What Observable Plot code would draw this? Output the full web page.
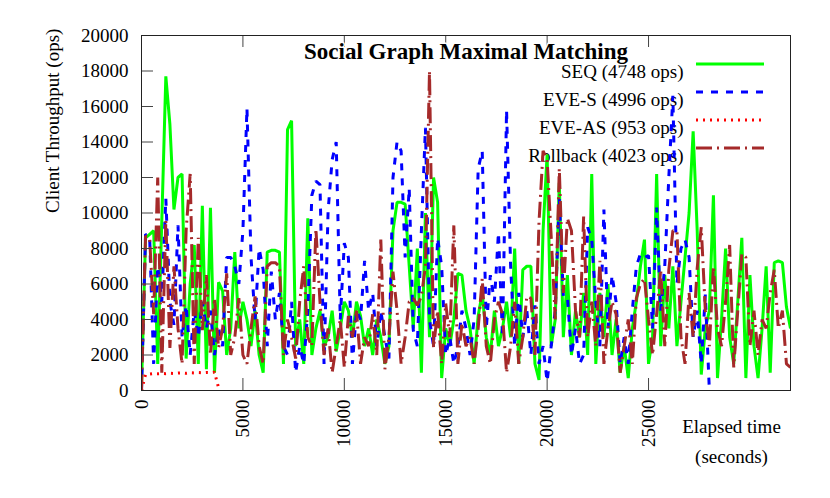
<!DOCTYPE html>
<html><head><meta charset="utf-8">
<script src="https://cdn.jsdelivr.net/npm/d3@7"></script>
<script src="https://cdn.jsdelivr.net/npm/@observablehq/plot@0.6"></script>
<style>
body{margin:0;background:#fff;}
#chart svg{display:block;}
</style></head><body><div id="chart"></div>
<script>
// sampling interval (seconds) of every series
const STEP = 200;

// SEQ throughput, t = 0 .. 32000 s
const seqValues = [
  200, 8600, 8800, 9000, 1500, 9500, 17700, 15000, 10200, 12000,
  12200, 1800, 6000, 8200, 1500, 10400, 1200, 10300, 1000, 6100,
  5600, 2000, 3500, 7800, 3500, 5000, 4000, 2500, 4500, 2000,
  1000, 7800, 7900, 7900, 7800, 1500, 14700, 15200, 2500, 4000,
  1500, 9700, 2000, 3500, 4500, 2500, 3000, 4500, 2200, 3500,
  5000, 4500, 3000, 5000, 4200, 2500, 3500, 2000, 4000, 3000,
  1500, 2500, 9000, 10600, 10600, 10500, 7000, 3500, 8000, 1000,
  10000, 3000, 12000, 10600, 700, 3500, 2500, 4000, 6600, 6500,
  4500, 3500, 1500, 4200, 5500, 3000, 2000, 4500, 2500, 3500,
  5000, 3000, 8000, 1500, 6800, 7000, 7000, 1500, 600, 9000,
  13300, 2500, 4000, 11700, 3000, 6500, 2000, 4500, 3000, 5500,
  2000, 12200, 1500, 5500, 3000, 6000, 2000, 4000, 1000, 2500,
  700, 3500, 5000, 7000, 8500, 1500, 3000, 12200, 2500, 6500,
  3500, 7000, 2500, 5000, 7500, 10000, 14600, 9000, 900, 3500,
  4500, 11000, 700, 4000, 8000, 3000, 1500, 5000, 8600, 700,
  6500, 2500, 700, 3500, 7000, 1000, 7200, 7300, 7200, 4700,
  3500
];

// EVE-S throughput, t = 0 .. 28000 s
const eveSValues = [
  0, 8800, 8700, 1500, 7000, 5000, 10800, 5000, 3700, 9300,
  3000, 4800, 2000, 4500, 3000, 5000, 3500, 4500, 2000, 3500,
  2500, 7500, 7500, 7000, 6000, 9000, 15900, 7500, 4000, 8000,
  6800, 2500, 6700, 4000, 5500, 2500, 2000, 5000, 1000, 2500,
  1500, 4500, 11000, 11800, 11600, 1500, 10100, 13000, 14000, 4000,
  8300, 7500, 1500, 4500, 4000, 7300, 4500, 5500, 2500, 4500,
  3000, 1800, 12000, 14000, 13500, 7500, 11400, 3400, 2500, 9000,
  14800, 4000, 2500, 8600, 7000, 2000, 3000, 1500, 2500, 4500,
  3500, 2000, 4000, 12500, 13500, 3500, 6500, 5000, 8900, 3000,
  15800, 7000, 2500, 5500, 3000, 4500, 2000, 4800, 1500, 2500,
  500, 2500, 4500, 10800, 5300, 5300, 2000, 3500, 1500, 2000,
  9200, 8500, 5000, 2500, 10200, 3500, 6500, 5000, 1500, 3000,
  1500, 4500, 7000, 7700, 7500, 7600, 3500, 10300, 4500, 7000,
  12000, 16600, 6000, 8000, 8500, 7500, 3000, 4500, 1500, 5400,
  0
];

// EVE-AS throughput, t = 0 .. 3800 s
const eveASValues = [
  0, 900, 920, 950, 940, 960, 950, 970, 960, 980,
  990, 970, 1000, 990, 1010, 1000, 1020, 1010, 1030, 150
];

// Rollback throughput, t = 0 .. 32000 s
const rollbackValues = [
  0, 8700, 8600, 4300, 12000, 1000, 9600, 2400, 7000, 3500,
  1500, 9000, 12200, 1500, 8600, 3400, 6500, 2000, 5200, 2400,
  3500, 6600, 2000, 3000, 5200, 2000, 1500, 3500, 5300, 2500,
  1500, 7000, 7200, 7200, 7000, 2000, 4000, 3000, 1800, 5000,
  7000, 3000, 2500, 9100, 5000, 2000, 3500, 1000, 2500, 4000,
  1300, 4200, 3000, 4500, 1500, 3000, 2500, 4300, 2000, 8500,
  1200, 3000, 6700, 4500, 1500, 3000, 5000, 5200, 4800, 5300,
  7000, 18000, 2400, 4500, 1500, 4900, 3000, 9300, 1500, 3800,
  2500, 3000, 1500, 3500, 6300, 2500, 1500, 4000, 5000, 4300,
  1000, 2500, 5000, 1500, 3000, 5300, 5200, 2000, 9500, 13500,
  13000, 8700, 4000, 12500, 5500, 9700, 9000, 4500, 3000, 9800,
  3000, 5000, 2500, 7300, 1500, 3500, 5000, 4300, 1000, 2500,
  4000, 1500, 5200, 6000, 6300, 4000, 2000, 4300, 6800, 2500,
  6800, 9000, 9000, 3000, 1500, 5500, 3000, 6900, 9200, 4500,
  2500, 7000, 3500, 2500, 5000, 8200, 1300, 4500, 7700, 7500,
  2500, 4500, 2000, 4000, 3500, 5500, 6800, 3500, 4500, 1500,
  1300
];

const seriesLabels = ["SEQ (4748 ops)", "EVE-S (4996 ops)", "EVE-AS (953 ops)", "Rollback (4023 ops)"];
const seriesColors = ["#00ff00", "#0000ff", "#ff0000", "#a52a2a"];
const seriesDashes = ["none", "7,8", "2,5", "16,5,2,5"];
const xTickValues = [0, 5000, 10000, 15000, 20000, 25000];
const yTickValues = [0, 2000, 4000, 6000, 8000, 10000, 12000, 14000, 16000, 18000, 20000];
const titleText = "Social Graph Maximal Matching";
const yLabelText = "Client Throughput (ops)";
const xLabelLines = ["Elapsed time", "(seconds)"];

const W = 830, H = 498;
const ML = 141, MR = 40, MT = 35, MB = 108;
const X_MAX = 32000, Y_MAX = 20000;
const TICK = 12; // px, inward ticks
const FONT = "'Liberation Serif', 'Times New Roman', serif";

const allValues = [seqValues, eveSValues, eveASValues, rollbackValues];
const rows = allValues.map((vals, k) => vals.map((v, i) => ({t: i * STEP, v, k})));

const plotW = W - ML - MR, plotH = H - MT - MB;
const tickXdata = TICK * Y_MAX / plotH;   // length in y units for x ticks

const legendRowsY = [29, 57, 85, 113]; // offsets from frame top

const marks = [
  // legend texts (drawn under the data, like the reference)
  ...seriesLabels.map((lab, k) => Plot.text([lab], {
    frameAnchor: "top-right", dx: -107, dy: legendRowsY[k], textAnchor: "end",
    fontSize: 19, fill: "black"
  })),
  // data
  ...rows.map((r, k) => Plot.line(r, {
    x: "t", y: "v", stroke: seriesColors[k], strokeWidth: 3,
    strokeDasharray: seriesDashes[k] === "none" ? undefined : seriesDashes[k],
    strokeLinejoin: "miter", strokeLinecap: "butt", clip: true
  })),
  // inward ticks: bottom, top, left
  Plot.ruleX(xTickValues, {x: d => d, y1: 0, y2: tickXdata, stroke: "#444", strokeWidth: 1}),
  Plot.ruleX(xTickValues, {x: d => d, y1: Y_MAX - tickXdata, y2: Y_MAX, stroke: "#444", strokeWidth: 1}),
  Plot.ruleY(yTickValues, {y: d => d, x1: 0, x2: TICK * X_MAX / plotW, stroke: "#444", strokeWidth: 1}),
  Plot.frame({stroke: "#222", strokeWidth: 1}),
  Plot.axisX({ticks: xTickValues, tickSize: 0, tickPadding: 9, tickRotate: -90, label: null,
    tickFormat: d => String(d), fontSize: 19}),
  Plot.axisY({ticks: yTickValues, tickSize: 0, tickPadding: 13, label: null,
    tickFormat: d => String(d), fontSize: 19}),
  // axis labels
  Plot.text([yLabelText], {frameAnchor: "left", dx: -89, rotate: -90, fontSize: 19, fill: "black"}),
  Plot.text([xLabelLines[0]], {frameAnchor: "bottom-right", dx: -59, dy: 42, textAnchor: "middle", fontSize: 19, fill: "black"}),
  Plot.text([xLabelLines[1]], {frameAnchor: "bottom-right", dx: -59, dy: 72, textAnchor: "middle", fontSize: 19, fill: "black"}),
  // title
  Plot.text([titleText], {frameAnchor: "top", dy: 7, fontSize: 23, fontWeight: "bold", fill: "black",
    stroke: "white", strokeWidth: 3})
];

const chart = Plot.plot({
  width: W, height: H,
  marginLeft: ML, marginRight: MR, marginTop: MT, marginBottom: MB,
  x: {domain: [0, X_MAX]},
  y: {domain: [0, Y_MAX]},
  style: {fontFamily: FONT, fontSize: "19px", color: "black", background: "white", overflow: "visible"},
  marks
});
document.getElementById("chart").appendChild(chart);

// legend line samples
const svg = d3.select(chart);
const sx0 = W - MR - 94, sx1 = W - MR - 26;
const g = svg.append("g");
seriesLabels.forEach((lab, k) => {
  g.append("line")
    .attr("x1", sx0).attr("x2", sx1)
    .attr("y1", MT + legendRowsY[k]).attr("y2", MT + legendRowsY[k])
    .attr("stroke", seriesColors[k]).attr("stroke-width", 3)
    .attr("stroke-dasharray", seriesDashes[k]);
});
</script></body></html>
